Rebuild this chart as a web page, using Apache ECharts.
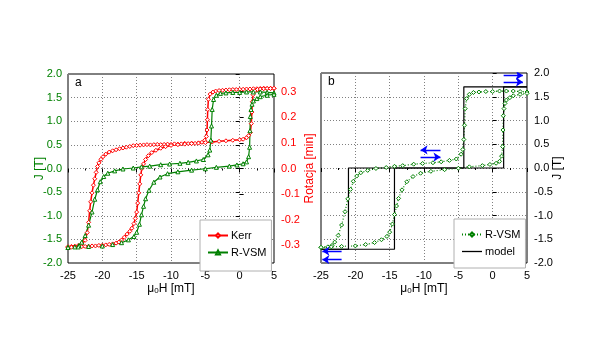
<!DOCTYPE html>
<html><head><meta charset="utf-8">
<script src="https://cdn.jsdelivr.net/npm/echarts@6/dist/echarts.min.js"></script>
<style>html,body{margin:0;padding:0;background:#fff}#c{width:594px;height:344px}</style>
</head><body><div id="c"></div>
<script>
// ---- data ----
const xTicks = [-25,-20,-15,-10,-5,0,5];
const jTicks = [-2.0,-1.5,-1.0,-0.5,0.0,0.5,1.0,1.5,2.0];
const rotTicks = [-0.3,-0.2,-0.1,0.0,0.1,0.2,0.3];

// R-VSM, J [T] vs mu0H [mT]
const vsmDown = [[5,1.60],[4,1.61],[3,1.62],[2,1.62],[1,1.62],[0,1.61],[-1,1.61],[-2,1.60],[-2.8,1.59],[-3.4,1.55],[-3.8,1.46],[-4.0,1.25],[-4.1,0.9],[-4.2,0.6],[-4.35,0.39],[-4.6,0.29],[-5.3,0.19],[-6.3,0.16],[-7.5,0.13],[-8.7,0.11],[-10.2,0.095],[-11.5,0.08],[-13.1,0.05],[-14.3,0.035],[-15.5,0.01],[-17,-0.01],[-18.2,-0.05],[-19.2,-0.1],[-19.8,-0.17],[-20.3,-0.28],[-20.7,-0.45],[-21.1,-0.65],[-21.5,-0.92],[-22.0,-1.2],[-22.5,-1.42],[-23.0,-1.56],[-23.4,-1.63],[-24,-1.66],[-25,-1.67]];
const vsmUp = [[-25,-1.67],[-23.5,-1.66],[-22,-1.65],[-20,-1.64],[-18.5,-1.61],[-17.2,-1.57],[-16.2,-1.51],[-15.4,-1.44],[-15.0,-1.35],[-14.6,-1.18],[-14.3,-0.98],[-14.0,-0.8],[-13.7,-0.64],[-13.2,-0.46],[-12.5,-0.29],[-11.6,-0.18],[-10.5,-0.11],[-9,-0.07],[-7,-0.035],[-5,-0.005],[-3.4,0.025],[-1.5,0.05],[-0.4,0.075],[0.5,0.1],[1.0,0.14],[1.3,0.25],[1.45,0.45],[1.5,0.8],[1.55,1.1],[1.65,1.25],[1.8,1.36],[2.0,1.43],[2.5,1.48],[3.0,1.52],[4.0,1.55],[5,1.57]];

// Kerr, rotation [min] vs mu0H [mT]
const kerrDown = [[5,0.312],[4.5,0.313],[4,0.312],[3.5,0.313],[3,0.312],[2.5,0.311],[2,0.311],[1.5,0.31],[1,0.31],[0.5,0.309],[0,0.309],[-0.5,0.308],[-1,0.308],[-1.5,0.307],[-2,0.306],[-2.5,0.305],[-3,0.304],[-3.5,0.302],[-3.9,0.298],[-4.3,0.29],[-4.55,0.27],[-4.65,0.23],[-4.7,0.19],[-4.75,0.15],[-4.85,0.125],[-5.1,0.11],[-5.5,0.102],[-6,0.1],[-6.5,0.098],[-7,0.099],[-7.5,0.097],[-8,0.098],[-8.5,0.096],[-9,0.095],[-9.5,0.096],[-10,0.094],[-10.5,0.095],[-11,0.094],[-11.5,0.093],[-12,0.094],[-12.5,0.093],[-13,0.092],[-13.5,0.093],[-14,0.092],[-14.5,0.091],[-15,0.09],[-15.5,0.089],[-16,0.086],[-16.5,0.083],[-17,0.08],[-17.5,0.077],[-18,0.073],[-18.5,0.069],[-19,0.064],[-19.5,0.056],[-19.9,0.046],[-20.2,0.036],[-20.5,0.022],[-20.7,0.008],[-20.9,-0.015],[-21.1,-0.04],[-21.3,-0.065],[-21.5,-0.095],[-21.7,-0.13],[-21.85,-0.165],[-22.0,-0.21],[-22.2,-0.25],[-22.5,-0.28],[-23,-0.295],[-23.5,-0.30],[-24,-0.303],[-24.5,-0.304],[-25,-0.305]];
const kerrUp = [[-25,-0.308],[-24.5,-0.307],[-24,-0.306],[-23.5,-0.306],[-23,-0.305],[-22.5,-0.304],[-22,-0.303],[-21.5,-0.302],[-21,-0.302],[-20.5,-0.3],[-20,-0.299],[-19.5,-0.298],[-19,-0.296],[-18.5,-0.294],[-18,-0.291],[-17.6,-0.287],[-17.2,-0.279],[-16.8,-0.268],[-16.4,-0.256],[-16,-0.245],[-15.7,-0.233],[-15.4,-0.215],[-15.2,-0.195],[-15.0,-0.17],[-14.85,-0.135],[-14.7,-0.095],[-14.55,-0.06],[-14.4,-0.025],[-14.25,0.0],[-14.0,0.018],[-13.7,0.035],[-13.3,0.05],[-12.8,0.062],[-12.2,0.071],[-11.5,0.079],[-10.8,0.085],[-10,0.09],[-9,0.093],[-8,0.095],[-7,0.097],[-6,0.099],[-5,0.101],[-4,0.103],[-3,0.106],[-2,0.108],[-1,0.11],[0,0.112],[0.5,0.114],[1.0,0.12],[1.3,0.128],[1.55,0.14],[1.7,0.175],[1.78,0.22],[1.85,0.26],[1.95,0.288],[2.2,0.303],[2.6,0.308],[3,0.31],[3.5,0.311],[4,0.312],[4.5,0.312],[5,0.313]];

// model (panel b), J [T]
const modelDown = [[5,1.71],[-4.2,1.71],[-4.2,0],[-21,0],[-21,-1.71],[-25,-1.71]];
const modelUp = [[-25,-1.71],[-14.3,-1.71],[-14.3,0],[1.6,0],[1.6,1.71],[5,1.71]];

// field-direction arrows (panel b): [x1,y1,x2,y2]
const arrows = [[1.6,1.95,4.4,1.95],[1.6,1.81,4.4,1.81],[-7.6,0.38,-10.5,0.38],[-10.5,0.23,-7.6,0.23],[-22.0,-1.75,-24.8,-1.75],[-22.0,-1.93,-24.8,-1.93]];

// ---- styles ----
const FONT = 'Liberation Sans';
const GREEN = '#008000', RED = '#ff0000';
const grid0 = {left:68, right:320, top:74, bottom:81, show:true, borderColor:'#000', borderWidth:1, backgroundColor:'transparent'};
const grid1 = {left:321, right:67, top:73, bottom:81, show:true, borderColor:'#000', borderWidth:1, backgroundColor:'transparent'};
const dotted = {show:true, lineStyle:{color:'#808080', type:[1,2], width:1}};
const nameRich = {rich:{s:{fontSize:8, fontFamily:FONT, color:'#000', verticalAlign:'bottom', padding:[5,0,0,0]}}};

function xAx(gi){
  return {type:'value', gridIndex:gi, min:-25, max:5, interval:5,
    name:'μ{s|0}H [mT]', nameLocation:'middle', nameGap:19, nameMoveOverlap:false,
    nameTextStyle:Object.assign({fontFamily:FONT, fontSize:12, color:'#000'}, nameRich),
    axisLine:{show:false}, axisTick:{show:true, inside:false, length:4, lineStyle:{color:'#000'}},
    minorTick:{show:true, splitNumber:2, length:2, lineStyle:{color:'#000'}},
    axisLabel:{fontFamily:FONT, fontSize:11, color:'#000', margin:7},
    splitLine:dotted};
}
function xTop(gi){
  return {type:'value', gridIndex:gi, position:'top', min:-25, max:5, interval:5,
    axisLine:{show:false}, axisTick:{show:false}, axisLabel:{show:false}, splitLine:{show:false}};
}

const series = [];
function lineS(name, data, xi, yi, color, symbol, size, dash, width, extra){
  series.push(Object.assign({type:'line', name, data, xAxisIndex:xi, yAxisIndex:yi,
    symbol, symbolSize:size, showSymbol:symbol!=='none',
    lineStyle:{color, width, type:dash}, itemStyle:{color:'#fff', borderColor:color, borderWidth:1},
    animation:false, z:3}, extra||{}));
}
lineS('Kerr', kerrDown, 0, 1, RED, 'diamond', 4, 'solid', 1.5);
lineS('Kerr', kerrUp, 0, 1, RED, 'diamond', 4, 'solid', 1.5);
lineS('R-VSM', vsmDown, 0, 0, GREEN, 'triangle', 4, 'solid', 1.2);
lineS('R-VSM', vsmUp, 0, 0, GREEN, 'triangle', 4, 'solid', 1.2);
lineS('R-VSM b', vsmDown, 2, 3, GREEN, 'diamond', 4, [1,2], 1.2);
lineS('R-VSM b', vsmUp, 2, 3, GREEN, 'diamond', 4, [1,2], 1.2);
lineS('model', modelDown, 2, 3, '#000', 'none', 0, 'solid', 1.2, {itemStyle:{color:'#000'}});
lineS('model', modelUp, 2, 3, '#000', 'none', 0, 'solid', 1.2, {itemStyle:{color:'#000'}});
series.push({type:'lines', coordinateSystem:'cartesian2d', xAxisIndex:2, yAxisIndex:3,
  symbol:['none','arrow'], symbolSize:7, animation:false, z:4,
  lineStyle:{color:'#0000ff', width:1.3, opacity:1},
  data: arrows.map(a => ({coords:[[a[0],a[1]],[a[2],a[3]]]}))});

const legendBase = {orient:'vertical', itemWidth:20, itemHeight:5, itemGap:6,
  borderColor:'#b0b0b0', borderWidth:1, backgroundColor:'#fff', selectedMode:false,
  formatter: n => n.replace(' b',''),
  textStyle:{fontFamily:FONT, fontSize:11, color:'#000', padding:[0,0,0,-2]}};

const option = {
  backgroundColor:'#fff',
  animation:false,
  textStyle:{fontFamily:FONT},
  grid:[grid0, grid1],
  xAxis:[xAx(0), xTop(0), xAx(1), xTop(1)],
  yAxis:[
    {type:'value', gridIndex:0, position:'left', min:-2, max:2, interval:0.5,
     name:'J [T]', nameLocation:'middle', nameGap:22, nameRotate:90, nameMoveOverlap:false,
     nameTextStyle:{fontFamily:FONT, fontSize:12, color:GREEN},
     axisLine:{show:false}, axisTick:{show:true, length:4, lineStyle:{color:'#000'}},
     axisLabel:{fontFamily:FONT, fontSize:11, color:GREEN, margin:6, formatter:v=>v.toFixed(1)},
     splitLine:dotted},
    {type:'value', gridIndex:0, position:'right', min:-0.3685, max:0.3685,
     name:'Rotacja [min]', nameLocation:'middle', nameGap:30, nameRotate:90, nameMoveOverlap:false,
     nameTextStyle:{fontFamily:FONT, fontSize:12, color:RED},
     axisLine:{show:false},
     axisTick:{show:true, length:4, customValues:rotTicks, lineStyle:{color:'#000'}},
     axisLabel:{fontFamily:FONT, fontSize:11, color:RED, margin:7, customValues:rotTicks, formatter:v=>(Math.abs(v)<1e-9?0:v).toFixed(1)},
     splitLine:{show:false}},
    {type:'value', gridIndex:1, position:'left', min:-2, max:2, interval:0.5,
     axisLine:{show:false}, axisTick:{show:false}, axisLabel:{show:false}, splitLine:dotted},
    {type:'value', gridIndex:1, position:'right', min:-2, max:2, interval:0.5,
     name:'J [T]', nameLocation:'middle', nameGap:25, nameRotate:90, nameMoveOverlap:false,
     nameTextStyle:{fontFamily:FONT, fontSize:12, color:'#000'},
     axisLine:{show:false}, axisTick:{show:true, length:4, lineStyle:{color:'#000'}},
     axisLabel:{fontFamily:FONT, fontSize:11, color:'#000', margin:7, formatter:v=>v.toFixed(1)},
     splitLine:{show:false}}
  ],
  legend:[
    Object.assign({}, legendBase, {data:['Kerr','R-VSM'], left:200, top:220, padding:[10,5,13,7]}),
    Object.assign({}, legendBase, {data:['R-VSM b', {name:'model', icon:'path://M0,0L20,0L20,1.3L0,1.3Z'}], left:454, top:219, padding:[10,5,11,7]})
  ],
  graphic:[
    {type:'text', left:75, top:77, style:{text:'a', font:'12px Liberation Sans', fill:'#000'}},
    {type:'text', left:328, top:76, style:{text:'b', font:'12px Liberation Sans', fill:'#000'}}
  ],
  series
};
const chart = echarts.init(document.getElementById('c'), null, {renderer:'canvas'});
chart.setOption(option);
</script>
</body></html>
